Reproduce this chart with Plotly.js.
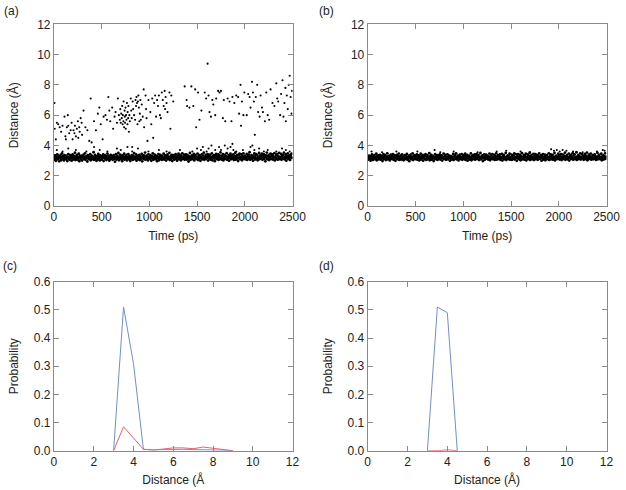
<!DOCTYPE html>
<html>
<head>
<meta charset="utf-8">
<script src="https://cdn.plot.ly/plotly-3.0.1.min.js"></script>
<style>html,body{margin:0;padding:0;background:#fff;}#chart{width:626px;height:490px;}</style>
</head>
<body>
<div id="chart"></div>
<script>
// ---------- Data ----------
// sampling step (ps) of the dense band series
const bandStep = 5;

// (a) dense band of distances (Å), one value per bandStep ps
const bandA = [
3.21,3.05,3.34,3.12,2.98,3.27,3.16,3.41,3.08,3.19,3.30,2.95,3.24,3.13,3.38,3.02,3.22,3.47,3.10,3.29,3.17,3.01,3.35,3.14,3.26,
3.09,3.32,3.18,2.97,3.25,3.43,3.11,3.20,3.04,3.36,3.15,3.28,2.99,3.23,3.40,3.07,3.19,3.31,3.12,3.52,3.03,3.26,3.16,3.37,3.06,
3.22,3.14,3.45,2.96,3.29,3.18,3.08,3.33,3.21,3.00,3.27,3.13,3.39,3.10,3.24,3.48,3.05,3.19,3.30,3.15,2.94,3.35,3.20,3.11,3.26,
3.17,3.42,3.02,3.23,3.32,3.09,3.28,3.14,3.55,3.04,3.21,3.37,3.12,3.25,2.98,3.18,3.31,3.07,3.44,3.16,3.27,3.01,3.34,3.13,3.22,
3.06,3.29,3.19,3.40,2.97,3.24,3.15,3.36,3.10,3.28,3.03,3.20,3.46,3.12,3.33,3.17,2.99,3.26,3.08,3.38,3.21,3.14,3.30,3.05,3.23,
3.35,3.11,3.27,2.93,3.18,3.42,3.07,3.22,3.31,3.14,3.50,3.02,3.25,3.16,3.39,3.09,3.29,3.19,2.96,3.34,3.12,3.24,3.45,3.06,3.20,
3.28,3.13,3.37,3.01,3.23,3.17,3.43,3.08,3.30,3.15,2.97,3.26,3.11,3.36,3.21,3.04,3.33,3.18,3.49,3.10,3.25,3.14,3.40,2.99,3.19,
3.31,3.07,3.24,3.16,3.38,3.03,3.27,3.20,3.12,3.44,2.95,3.29,3.15,3.35,3.09,3.22,3.53,3.06,3.18,3.32,3.13,3.26,3.01,3.41,3.17,
3.23,3.10,3.36,3.19,2.98,3.30,3.14,3.47,3.05,3.25,3.16,3.39,3.08,3.21,3.33,3.12,2.96,3.28,3.18,3.43,3.02,3.24,3.15,3.37,3.11,
3.27,3.04,3.32,3.20,3.13,3.46,3.07,3.23,3.34,3.16,3.00,3.29,3.19,3.40,3.09,3.26,3.14,3.51,3.03,3.22,3.31,3.12,3.38,2.97,3.25,
3.18,3.35,3.06,3.28,3.15,3.42,3.10,3.21,2.99,3.33,3.17,3.45,3.08,3.24,3.13,3.37,3.02,3.30,3.20,3.48,3.11,3.26,3.16,3.39,3.05,
3.29,3.14,3.41,3.07,3.22,3.36,3.12,2.94,3.27,3.19,3.50,3.04,3.25,3.16,3.34,3.09,3.31,3.21,3.44,3.01,3.28,3.15,3.38,3.10,3.23,
3.17,3.46,3.03,3.30,3.12,3.36,3.20,2.98,3.26,3.14,3.41,3.08,3.33,3.19,3.52,3.05,3.24,3.13,3.37,3.10,3.29,3.18,3.43,3.00,3.22,
3.32,3.11,3.39,3.06,3.25,3.16,3.47,3.02,3.28,3.19,3.35,3.13,2.96,3.30,3.21,3.44,3.09,3.27,3.15,3.40,3.04,3.23,3.34,3.12,3.54,
3.20,3.07,3.31,3.17,3.43,3.01,3.26,3.14,3.38,3.10,3.29,3.22,3.49,3.05,3.24,3.16,3.36,2.99,3.28,3.18,3.45,3.08,3.33,3.13,3.25,
3.15,3.41,3.03,3.27,3.19,3.52,3.06,3.31,3.12,3.37,3.21,2.97,3.34,3.16,3.46,3.09,3.24,3.14,3.40,3.02,3.29,3.20,3.48,3.11,3.26,
3.33,3.08,3.23,3.17,3.44,3.04,3.30,3.13,3.39,3.21,3.55,3.06,3.27,3.15,3.35,3.10,3.25,2.98,3.32,3.19,3.47,3.07,3.28,3.16,3.42,
3.12,3.36,3.02,3.24,3.18,3.50,3.09,3.31,3.14,3.38,3.22,3.45,3.05,3.29,3.17,3.41,3.11,3.26,2.95,3.34,3.20,3.53,3.08,3.27,3.15,
3.37,3.03,3.25,3.19,3.46,3.10,3.32,3.14,3.40,3.07,3.28,3.21,3.49,3.01,3.23,3.16,3.35,3.12,3.43,3.06,3.30,3.18,3.51,3.09,3.24,
3.20,3.44,3.05,3.29,3.13,3.38,3.17,3.52,3.08,3.26,3.15,3.41,2.99,3.31,3.19,3.47,3.10,3.27,3.14,3.36,3.04,3.33,3.22,3.45,3.18
];

// (a) scattered points away from the band: time (ps) and distance (Å)
const outT = [5,8,20,30,45,60,75,90,110,120,125,135,145,150,160,175,185,195,205,215,220,230,240,250,255,265,270,280,290,295,
310,330,350,370,385,395,420,440,460,475,490,510,520,540,555,570,580,590,610,620,635,645,660,670,680,690,695,
700,705,710,715,720,722,728,730,735,740,742,745,750,752,755,760,765,770,772,778,780,785,790,795,
805,810,815,820,825,830,840,850,855,860,865,870,875,880,885,890,895,900,905,910,920,930,940,945,960,965,970,980,990,
1010,1020,1030,1040,1050,1060,1070,1080,1090,1100,1110,1120,1130,1140,1150,1160,1165,1170,1180,1190,1210,1220,1230,1250,
1370,1390,1395,1420,1440,1460,1480,1490,1510,1525,1545,1580,1595,1610,1620,1630,1645,1660,1670,1690,1700,1720,1735,1750,1770,1780,1795,
1820,1840,1860,1870,1890,1910,1930,1940,1955,1960,1970,1985,1995,2020,2035,2050,2060,2075,2085,2095,2105,2115,2130,2140,2155,2165,2180,2190,
2210,2225,2240,2255,2270,2290,2310,2330,2340,2350,2370,2380,2395,2405,2415,2425,2430,2440,2450,2460,2470,2480,2490,2495,
30,90,150,230,340,420,480,560,660,700,770,820,880,990,1100,1180,1320,1450,1500,1540,1560,1600,1620,1650,1690,1730,1750,1790,
1820,1850,1870,1880,1910,1980,2060,2080,2100,2150,2200,2240,2330,2390,2430,2470];
const outD = [6.8,5.1,4.4,5.5,5.4,5.2,4.9,5.3,5.9,4.6,4.4,5.2,6.0,5.3,4.8,5.0,5.5,4.4,5.0,4.8,5.3,4.6,5.1,5.6,4.5,5.2,4.9,5.8,5.5,4.7,
6.3,5.2,5.0,4.3,7.1,4.2,5.6,5.0,6.1,6.5,5.4,4.4,5.9,6.0,5.7,7.2,6.3,5.6,6.5,5.1,5.9,6.2,5.5,7.1,6.0,5.7,6.4,
5.5,6.1,5.8,6.6,5.4,6.0,5.6,6.9,5.2,6.3,5.9,5.5,6.5,5.1,6.0,5.7,6.8,5.4,6.2,5.8,6.6,4.9,6.0,5.6,
7.1,6.3,5.8,3.9,6.9,6.4,6.0,5.7,7.0,6.6,7.2,6.8,5.4,6.9,7.3,6.5,5.6,6.1,7.0,5.7,6.7,5.9,7.7,5.2,7.3,6.4,5.8,4.3,7.0,
6.2,5.4,7.1,4.5,6.8,7.3,5.9,7.0,6.6,7.3,6.0,5.8,7.5,7.0,6.6,7.6,6.4,7.2,6.8,6.2,7.5,5.1,7.3,6.9,
7.9,7.0,6.6,6.5,7.9,6.6,7.7,5.2,7.5,5.7,6.3,7.5,7.1,9.4,7.3,6.2,5.9,7.0,6.7,6.0,7.1,7.6,7.5,7.6,5.8,7.0,5.6,
7.1,6.9,5.6,7.2,6.8,7.3,7.2,6.1,8.0,5.3,6.9,6.0,7.5,6.0,7.4,7.2,6.5,8.2,7.5,6.9,4.7,7.2,8.0,6.2,5.9,7.3,6.5,6.2,
5.6,7.5,6.0,5.7,7.7,6.8,6.6,8.1,7.1,6.9,6.0,7.4,8.3,5.9,6.8,7.8,5.6,7.3,6.4,8.0,8.6,7.2,6.1,7.6,
3.7,3.6,3.8,3.7,3.6,3.9,3.7,3.6,3.8,3.7,3.9,3.6,3.8,3.6,3.7,3.6,3.7,3.6,3.8,3.7,3.9,3.6,3.8,4.0,3.7,3.9,3.7,4.0,
3.8,3.9,4.1,3.7,3.6,3.7,3.9,4.0,3.7,3.8,3.6,3.7,3.6,3.8,3.7,3.6];

// (b) dense band of distances (Å), one value per bandStep ps
const bandB = [
3.18,3.26,3.07,3.33,3.14,3.22,2.99,3.30,3.11,3.40,3.19,3.04,3.28,3.16,3.36,3.09,3.24,3.13,3.45,3.02,3.27,3.20,3.34,3.08,3.23,
3.15,3.38,3.06,3.25,3.12,3.31,2.97,3.21,3.43,3.10,3.29,3.17,3.35,3.03,3.24,3.14,3.48,3.08,3.27,3.19,3.32,3.01,3.22,3.13,3.39,
3.11,3.28,3.20,3.42,3.05,3.26,3.16,3.34,2.98,3.23,3.12,3.37,3.09,3.30,3.18,3.46,3.04,3.25,3.15,3.33,3.07,3.21,3.41,3.14,3.28,
3.02,3.24,3.17,3.36,3.10,3.29,3.19,3.44,3.06,3.22,3.13,3.32,2.96,3.27,3.15,3.39,3.08,3.25,3.20,3.47,3.03,3.30,3.12,3.35,3.18,
3.09,3.31,3.14,3.40,3.05,3.23,3.17,3.34,3.01,3.26,3.12,3.45,3.07,3.28,3.19,3.37,2.99,3.22,3.15,3.33,3.10,3.42,3.04,3.27,3.16,
3.35,3.08,3.24,3.13,3.49,3.02,3.29,3.18,3.38,3.06,3.25,3.14,3.31,2.97,3.22,3.16,3.43,3.09,3.27,3.20,3.36,3.04,3.23,3.11,3.32,
3.19,3.40,3.07,3.26,3.14,3.34,3.00,3.24,3.17,3.46,3.10,3.29,3.13,3.37,3.05,3.21,3.15,3.41,3.08,3.28,3.18,3.33,2.98,3.25,3.12,
3.30,3.06,3.22,3.16,3.44,3.03,3.27,3.11,3.36,3.19,3.48,3.08,3.24,3.14,3.32,3.01,3.26,3.17,3.39,3.09,3.23,3.13,3.42,3.05,3.28,
3.15,3.35,3.10,3.21,3.45,3.04,3.29,3.18,3.38,2.99,3.25,3.12,3.33,3.07,3.23,3.16,3.47,3.02,3.27,3.19,3.36,3.09,3.22,3.14,3.40,
3.06,3.28,3.17,3.43,3.11,3.31,3.20,3.37,3.03,3.24,3.13,3.50,3.08,3.26,3.15,3.34,2.97,3.22,3.18,3.41,3.05,3.30,3.12,3.39,3.21,
3.14,3.33,3.07,3.25,3.19,3.46,3.02,3.28,3.11,3.36,3.16,3.42,3.09,3.23,3.13,3.38,3.04,3.31,3.20,3.48,3.06,3.26,3.15,3.35,3.10,
3.27,3.12,3.40,3.05,3.22,3.17,3.44,3.00,3.29,3.14,3.37,3.08,3.25,3.19,3.51,3.03,3.24,3.13,3.34,3.09,3.30,3.18,3.45,3.06,3.21,
3.16,3.39,3.04,3.27,3.12,3.35,3.20,3.47,3.07,3.23,3.15,3.41,2.98,3.30,3.17,3.43,3.10,3.26,3.14,3.38,3.02,3.28,3.21,3.49,3.08,
3.24,3.13,3.36,3.06,3.29,3.18,3.45,3.01,3.25,3.15,3.40,3.10,3.32,3.20,3.52,3.04,3.27,3.12,3.37,3.08,3.23,3.16,3.44,3.03,3.30,
3.17,3.42,3.09,3.26,3.14,3.38,3.05,3.31,3.21,3.47,3.11,3.24,3.16,3.35,2.99,3.28,3.19,3.43,3.07,3.25,3.13,3.39,3.02,3.29,3.18,
3.36,3.10,3.23,3.15,3.48,3.04,3.27,3.20,3.41,3.08,3.30,3.13,3.37,3.06,3.24,3.17,3.50,3.01,3.26,3.14,3.33,3.09,3.22,3.19,3.45,
3.12,3.34,3.07,3.28,3.18,3.43,3.03,3.25,3.15,3.39,3.10,3.31,3.21,3.52,3.05,3.27,3.16,3.36,3.08,3.23,3.13,3.46,3.00,3.29,3.20,
3.38,3.11,3.26,3.17,3.49,3.06,3.32,3.14,3.41,3.09,3.24,3.19,3.55,3.04,3.28,3.15,3.37,3.10,3.30,3.21,3.47,3.07,3.25,3.13,3.43,
3.18,3.33,3.05,3.27,3.16,3.44,3.09,3.31,3.20,3.53,3.02,3.26,3.14,3.39,3.11,3.29,3.17,3.46,3.06,3.24,3.13,3.36,3.08,3.32,3.19,
3.41,3.12,3.28,3.04,3.25,3.17,3.50,3.08,3.30,3.15,3.38,3.10,3.23,3.19,3.45,3.02,3.27,3.13,3.34,3.07,3.29,3.21,3.48,3.11,3.26
];

// (b) sparse points just above the band
const bExtraT = [40,150,300,520,700,760,900,1150,1350,1450,1600,1700,1920,1950,1980,2010,2040,2080,2150,2250,2400,2460,2480];
const bExtraD = [3.6,3.55,3.6,3.6,3.7,3.55,3.6,3.55,3.6,3.65,3.6,3.55,3.75,3.65,3.7,3.6,3.7,3.65,3.6,3.55,3.6,3.7,3.65];

// (c) and (d) distance distributions
const distC = [3.0,3.5,4.0,4.5,5.0,5.5,6.0,6.5,7.0,7.5,8.0,8.5,9.0];
const cBlue = [0,0.51,0.31,0.005,0.003,0.004,0.005,0.005,0.004,0.004,0.004,0.002,0];
const cRed  = [0,0.085,0.045,0.005,0.002,0.006,0.010,0.010,0.007,0.013,0.009,0.003,0];
const distD = [3.0,3.5,4.0,4.5];
const dBlue = [0,0.51,0.49,0];
const dRed  = [0,0,0.003,0];

const panelLabels = ['(a)','(b)','(c)','(d)'];
const timeTitle = 'Time (ps)';
const distTitle = 'Distance (Å)';
const distTitleC = 'Distance (Å';
const probTitle = 'Probability';

// ---------- Build ----------
const bandTA = bandA.map((_, i) => i * bandStep);
const bandTB = bandB.map((_, i) => i * bandStep);
const BLUE = '#7090c8', RED = '#e8646e';
const bandDot = {color: '#000', size: 2.8};
const sparseDot = {color: '#000', size: 2.1};

const traces = [
  {type:'scatter', mode:'markers', x:bandTA, y:bandA, marker:bandDot, xaxis:'x', yaxis:'y'},
  {type:'scatter', mode:'markers', x:outT, y:outD, marker:sparseDot, xaxis:'x', yaxis:'y'},
  {type:'scatter', mode:'markers', x:bandTB, y:bandB, marker:bandDot, xaxis:'x2', yaxis:'y2'},
  {type:'scatter', mode:'markers', x:bExtraT, y:bExtraD, marker:sparseDot, xaxis:'x2', yaxis:'y2'},
  {type:'scatter', mode:'lines', x:distC, y:cBlue, line:{color:BLUE, width:1}, xaxis:'x3', yaxis:'y3'},
  {type:'scatter', mode:'lines', x:distC, y:cRed, line:{color:RED, width:1}, xaxis:'x3', yaxis:'y3'},
  {type:'scatter', mode:'lines', x:distD, y:dBlue, line:{color:BLUE, width:1}, xaxis:'x4', yaxis:'y4'},
  {type:'scatter', mode:'lines', x:distD, y:dRed, line:{color:RED, width:1}, xaxis:'x4', yaxis:'y4'}
];

const FONT = 'Liberation Sans, Arial, Helvetica, sans-serif';
function ax(extra) {
  return Object.assign({
    showline:true, linecolor:'#8a8a8a', linewidth:1, mirror:'ticks',
    ticks:'inside', ticklen:5, tickcolor:'#8a8a8a', tickwidth:1,
    showgrid:false, zeroline:false, fixedrange:true,
    tickfont:{family:FONT, size:12, color:'#222'}
  }, extra);
}
const tFont = {family:FONT, size:12, color:'#222'};

const xL = [0.0862, 0.4673], xR = [0.5874, 0.9689];
const yT = [0.5796, 0.9504], yB = [0.0802, 0.4251];

const layout = {
  width:626, height:490,
  margin:{l:0, r:0, t:0, b:0},
  paper_bgcolor:'#fff', plot_bgcolor:'#fff',
  showlegend:false,
  font:{family:FONT, color:'#222'},
  xaxis: ax({domain:xL, anchor:'y', range:[0,2500], dtick:500, title:{text:timeTitle, font:tFont, standoff:8}}),
  yaxis: ax({domain:yT, anchor:'x', range:[0,12], dtick:2, title:{text:distTitle, font:tFont, standoff:15}}),
  xaxis2: ax({domain:xR, anchor:'y2', range:[0,2500], dtick:500, title:{text:timeTitle, font:tFont, standoff:8}}),
  yaxis2: ax({domain:yT, anchor:'x2', range:[0,12], dtick:2, title:{text:distTitle, font:tFont, standoff:15}}),
  xaxis3: ax({domain:xL, anchor:'y3', range:[0,12], dtick:2, title:{text:distTitleC, font:tFont, standoff:7}}),
  yaxis3: ax({domain:yB, anchor:'x3', range:[0,0.6], dtick:0.1, tickformat:'.1f', title:{text:probTitle, font:tFont, standoff:12}}),
  xaxis4: ax({domain:xR, anchor:'y4', range:[0,12], dtick:2, title:{text:distTitle, font:tFont, standoff:7}}),
  yaxis4: ax({domain:yB, anchor:'x4', range:[0,0.6], dtick:0.1, tickformat:'.1f', title:{text:probTitle, font:tFont, standoff:12}}),
  annotations: [
    {text:panelLabels[0], x:0.019, y:0.978},
    {text:panelLabels[1], x:0.522, y:0.978},
    {text:panelLabels[2], x:0.016, y:0.457},
    {text:panelLabels[3], x:0.522, y:0.457}
  ].map(a => Object.assign({xref:'paper', yref:'paper', showarrow:false, xanchor:'center', yanchor:'middle',
      font:{family:FONT, size:12, color:'#222'}}, a))
};

Plotly.newPlot('chart', traces, layout, {displayModeBar:false, staticPlot:true});
</script>
</body>
</html>
